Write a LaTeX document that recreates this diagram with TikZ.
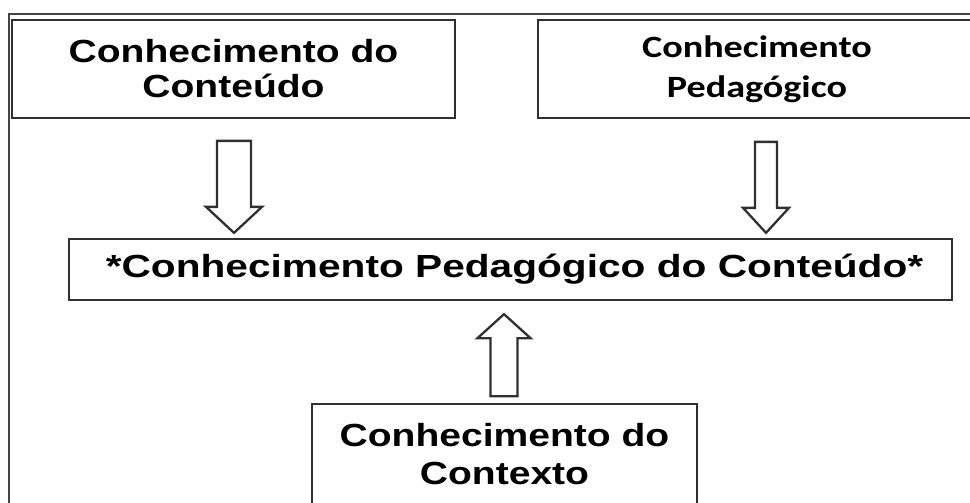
\documentclass[tikz,border=0pt]{standalone}
\usepackage{fontspec}
\usetikzlibrary{calc}
\newfontfamily\arialbf[FakeStretch=1.22]{Liberation Sans Bold}
\newfontfamily\arialbfw[FakeStretch=1.27]{Liberation Sans Bold}
\newfontfamily\calibf[FakeStretch=1.23]{Carlito Bold}
\definecolor{boxgray}{HTML}{303030}
\definecolor{framegray}{HTML}{444444}
\begin{document}
\begin{tikzpicture}[x=1pt,y=-1pt,
  box/.style={draw=boxgray, line width=2.3pt, inner sep=0pt, align=center, text=black},
  blockarrow/.style={draw=boxgray, line width=2.3pt, fill=white, line join=miter}]
\useasboundingbox (0,0) rectangle (970,503);
\draw[framegray, line width=1.5pt] (9,515) -- (9,14) -- (980,14);

\node[box, minimum width=443pt, minimum height=98pt,
  font=\arialbf\fontsize{32}{35}\selectfont] (cc) at (233.5,69) {Conhecimento do\\Conteúdo};
\node[box, minimum width=438pt, minimum height=98pt,
  font=\calibf\fontsize{31}{40}\selectfont] (cp) at (757,69) {Conhecimento\\Pedagógico};
\node[box, minimum width=883pt, minimum height=61pt,
  font=\arialbfw\fontsize{32}{35}\selectfont] (cpc) at (510.5,269.5) {\hspace*{8pt}*Conhecimento Pedagógico do Conteúdo*};
\node[box, minimum width=385pt, minimum height=101pt,
  font=\arialbf\fontsize{32}{38}\selectfont] (ctx) at (504.5,454.5) {Conhecimento do\\Contexto};

\coordinate (t1) at ($(cpc.north -| 234,0)+(0,-5)$);
\coordinate (t2) at ($(cpc.north -| 766,0)+(0,-5)$);
\coordinate (t3) at ($(cpc.south -| 504,0)+(0,13)$);

\draw[blockarrow] (t1) -- ++(28,-26) -- ++(-11,0) -- ++(0,-66) -- ++(-34,0) -- ++(0,66) -- ++(-11,0) -- cycle;
\draw[blockarrow] (t2) -- ++(23,-25) -- ++(-12,0) -- ++(0,-66) -- ++(-22,0) -- ++(0,66) -- ++(-12,0) -- cycle;
\draw[blockarrow] (t3) -- ++(26.5,24) -- ++(-13,0) -- ++(0,58) -- ++(-27,0) -- ++(0,-58) -- ++(-13,0) -- cycle;
\end{tikzpicture}
\end{document}
